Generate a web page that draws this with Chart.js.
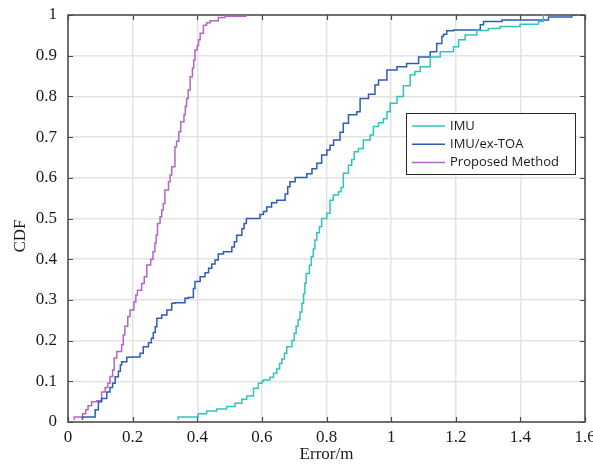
<!DOCTYPE html>
<html>
<head>
<meta charset="utf-8">
<script src="https://cdn.jsdelivr.net/npm/chart.js@4/dist/chart.umd.min.js"></script>
<style>
  html, body { margin: 0; padding: 0; background: #fff; }
  #wrap { width: 593px; height: 464px; }
</style>
</head>
<body>
<div id="wrap"><canvas id="cdf" width="593" height="464"></canvas></div>
<script>
// CDF del error: IMU, IMU/ex-TOA, método propuesto

/* ─── DATOS ─── */
const imuX = [0.341,0.398,0.403,0.429,0.46,0.491,0.517,0.538,0.553,0.574,0.589,0.6,0.605,0.625,0.636,0.646,0.655,0.662,0.67,0.677,0.693,0.7,0.706,0.712,0.718,0.724,0.729,0.733,0.737,0.747,0.753,0.759,0.764,0.77,0.778,0.785,0.801,0.811,0.821,0.837,0.845,0.852,0.868,0.878,0.886,0.899,0.914,0.935,0.945,0.961,0.976,0.987,0.997,1.018,1.038,1.059,1.074,1.09,1.121,1.152,1.193,1.209,1.229,1.265,1.301,1.337,1.399,1.456,1.471,1.477];
const imuY = [0.005,0.012,0.013,0.02,0.027,0.032,0.038,0.046,0.056,0.064,0.083,0.095,0.1,0.103,0.11,0.12,0.13,0.144,0.155,0.169,0.185,0.2,0.218,0.235,0.251,0.27,0.292,0.315,0.341,0.365,0.385,0.406,0.425,0.447,0.465,0.48,0.5,0.513,0.545,0.558,0.566,0.576,0.611,0.631,0.645,0.664,0.672,0.693,0.705,0.726,0.735,0.745,0.762,0.783,0.8,0.826,0.853,0.861,0.873,0.897,0.91,0.922,0.939,0.951,0.962,0.967,0.972,0.977,0.984,1.0];

const toaX = [0.045,0.084,0.094,0.104,0.12,0.13,0.138,0.146,0.156,0.162,0.166,0.182,0.197,0.223,0.233,0.249,0.258,0.264,0.27,0.275,0.29,0.306,0.321,0.331,0.362,0.372,0.388,0.393,0.409,0.424,0.435,0.445,0.455,0.465,0.481,0.507,0.515,0.522,0.538,0.545,0.552,0.558,0.594,0.605,0.615,0.63,0.646,0.672,0.68,0.687,0.703,0.739,0.755,0.77,0.785,0.801,0.811,0.822,0.842,0.852,0.868,0.894,0.904,0.93,0.95,0.961,0.987,1.018,1.048,1.085,1.121,1.141,1.157,1.162,1.172,1.193,1.276,1.286,1.343,1.487,1.559,1.575];
const toaY = [0.005,0.012,0.03,0.05,0.058,0.074,0.085,0.095,0.111,0.125,0.14,0.148,0.159,0.16,0.169,0.185,0.195,0.206,0.22,0.234,0.255,0.263,0.275,0.292,0.293,0.304,0.306,0.328,0.345,0.357,0.367,0.378,0.388,0.398,0.413,0.418,0.43,0.443,0.459,0.475,0.488,0.5,0.5,0.51,0.517,0.528,0.539,0.545,0.56,0.578,0.59,0.601,0.61,0.622,0.636,0.656,0.668,0.68,0.693,0.712,0.734,0.755,0.762,0.795,0.805,0.828,0.84,0.865,0.873,0.881,0.897,0.91,0.93,0.947,0.953,0.961,0.963,0.976,0.984,0.988,0.995,1.0];

const propX = [0.019,0.045,0.055,0.062,0.073,0.089,0.104,0.115,0.123,0.13,0.138,0.143,0.151,0.166,0.171,0.176,0.185,0.192,0.204,0.21,0.215,0.228,0.236,0.244,0.256,0.263,0.269,0.273,0.277,0.285,0.29,0.295,0.3,0.311,0.316,0.321,0.331,0.336,0.343,0.349,0.359,0.363,0.367,0.372,0.378,0.385,0.389,0.393,0.4,0.404,0.409,0.419,0.429,0.44,0.465,0.486,0.553];
const propY = [0.005,0.012,0.02,0.03,0.04,0.05,0.052,0.074,0.085,0.095,0.112,0.128,0.157,0.173,0.19,0.214,0.235,0.259,0.275,0.295,0.312,0.324,0.34,0.357,0.386,0.4,0.418,0.44,0.459,0.488,0.504,0.521,0.537,0.57,0.59,0.607,0.627,0.676,0.69,0.713,0.738,0.755,0.775,0.795,0.816,0.848,0.87,0.889,0.914,0.925,0.939,0.955,0.975,0.981,0.986,0.994,0.997];

const SERIES = ['IMU', 'IMU/ex-TOA', 'Proposed Method'];
const COLORS = ['#2fc4bf', '#2d5cb4', '#b366c4'];
const X_TICKS = [0, 0.2, 0.4, 0.6, 0.8, 1, 1.2, 1.4, 1.6];
const Y_TICKS = [0, 0.1, 0.2, 0.3, 0.4, 0.5, 0.6, 0.7, 0.8, 0.9, 1];

const pts = (xs, ys) => xs.map((x, i) => ({ x, y: ys[i] }));

/* ─── PLUGINS ─── */
const SERIF = '"Liberation Serif", "Times New Roman", serif';
const AXIS_COL = '#4a4a4a';

// ticks hacia adentro + caja completa (estilo MATLAB), debajo de las curvas
const boxTicks = {
  id: 'boxTicks',
  beforeDatasetsDraw(chart) {
    const { ctx, chartArea: a, scales: { x, y } } = chart;
    const L = 5;
    ctx.save();
    ctx.strokeStyle = AXIS_COL;
    ctx.lineWidth = 1.2;
    ctx.beginPath();
    X_TICKS.forEach(v => {
      const px = Math.round(x.getPixelForValue(v)) + 0.5;
      ctx.moveTo(px, a.bottom); ctx.lineTo(px, a.bottom - L);
      ctx.moveTo(px, a.top);    ctx.lineTo(px, a.top + L);
    });
    Y_TICKS.forEach(v => {
      const py = Math.round(y.getPixelForValue(v)) + 0.5;
      ctx.moveTo(a.left, py);  ctx.lineTo(a.left + L, py);
      ctx.moveTo(a.right, py); ctx.lineTo(a.right - L, py);
    });
    ctx.stroke();
    ctx.lineWidth = 1.5;
    ctx.strokeRect(a.left, a.top, a.right - a.left, a.bottom - a.top);

    // etiqueta del eje Y
    ctx.fillStyle = '#1a1a1a';
    ctx.font = '17px ' + SERIF;
    ctx.textAlign = 'center';
    ctx.textBaseline = 'middle';
    ctx.translate(21, 236);
    ctx.rotate(-Math.PI / 2);
    ctx.fillText('CDF', 0, 0);
    ctx.restore();
  }
};

// leyenda dentro del área (recuadro)
const boxLegend = {
  id: 'boxLegend',
  afterDraw(chart) {
    const { ctx } = chart;
    const bx = 406, by = 113, bw = 169, bh = 61;
    ctx.save();
    ctx.fillStyle = '#fff';
    ctx.fillRect(bx, by, bw, bh);
    ctx.strokeStyle = '#262626';
    ctx.lineWidth = 1;
    ctx.strokeRect(bx + 0.5, by + 0.5, bw, bh);
    ctx.font = '13px "Open Sans", "Noto Sans", sans-serif';
    ctx.textAlign = 'left';
    ctx.textBaseline = 'middle';
    chart.data.datasets.forEach((ds, i) => {
      const ly = by + 13 + i * 18.2;
      ctx.strokeStyle = ds.borderColor;
      ctx.lineWidth = 1.5;
      ctx.beginPath();
      ctx.moveTo(bx + 6, ly); ctx.lineTo(bx + 39, ly);
      ctx.stroke();
      ctx.fillStyle = '#1a1a1a';
      ctx.fillText(ds.label, bx + 44, ly);
    });
    ctx.restore();
  }
};

/* ─── CHART ─── */
const fmt = v => String(Number(v.toFixed(1)));

new Chart(document.getElementById('cdf'), {
  type: 'line',
  data: {
    datasets: [
      { label: SERIES[0], data: pts(imuX, imuY) },
      { label: SERIES[1], data: pts(toaX, toaY) },
      { label: SERIES[2], data: pts(propX, propY) }
    ].map((d, i) => ({
      ...d,
      borderColor: COLORS[i],
      backgroundColor: COLORS[i],
      borderWidth: 1.5,
      pointRadius: 0,
      stepped: 'after',
      fill: false
    }))
  },
  options: {
    responsive: false,
    animation: false,
    layout: { padding: { top: 15, right: 8, left: 0, bottom: 0 } },
    plugins: {
      legend: { display: false },
      tooltip: { enabled: false }
    },
    scales: {
      x: {
        type: 'linear',
        min: 0, max: 1.6,
        afterBuildTicks: s => { s.ticks = X_TICKS.map(value => ({ value })); },
        afterFit: s => { s.height = 42; s.paddingLeft = 0; s.paddingRight = 0; },
        ticks: {
          color: '#1a1a1a',
          font: { size: 17, family: SERIF },
          padding: 5,
          maxRotation: 0,
          autoSkip: false,
          callback: fmt
        },
        grid: { color: '#e3e3e3', lineWidth: 1.5, drawTicks: false },
        border: { display: false },
        title: {
          display: true,
          text: 'Error/m',
          color: '#1a1a1a',
          font: { size: 17, family: SERIF, lineHeight: 1.1 },
          padding: { top: 0, bottom: 0 }
        }
      },
      y: {
        min: 0, max: 1,
        afterBuildTicks: s => { s.ticks = Y_TICKS.map(value => ({ value })); },
        afterFit: s => { s.width = 68; s.paddingTop = 0; s.paddingBottom = 0; },
        ticks: {
          color: '#1a1a1a',
          font: { size: 17, family: SERIF },
          padding: 11,
          autoSkip: false,
          callback: fmt
        },
        grid: { color: '#e3e3e3', lineWidth: 1.5, drawTicks: false },
        border: { display: false }
      }
    }
  },
  plugins: [boxTicks, boxLegend]
});
</script>
</body>
</html>
